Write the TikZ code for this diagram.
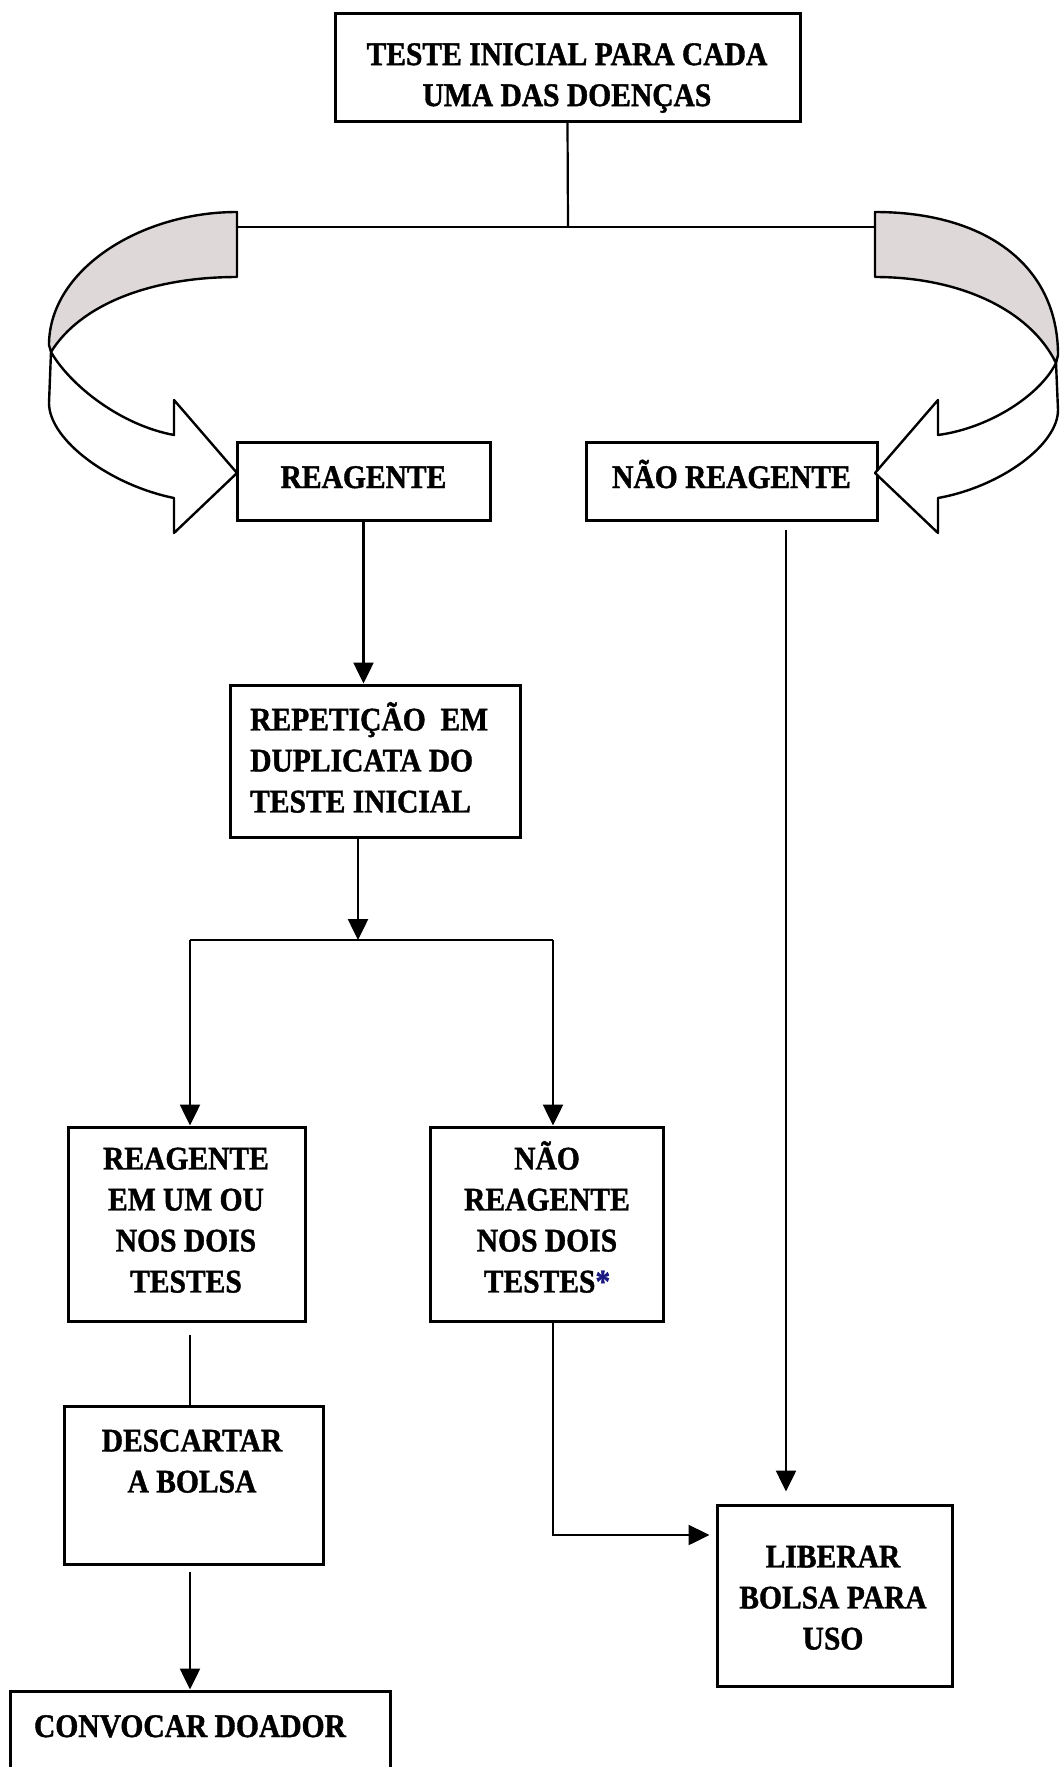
\documentclass[tikz,border=0pt]{standalone}
\usepackage{fontspec}
\setmainfont{Liberation Serif}[FakeStretch=0.895,FakeBold=1.2]
\usetikzlibrary{arrows.meta,calc}
\definecolor{ribbon}{RGB}{222,217,216}
\definecolor{astblue}{RGB}{25,25,130}
\begin{document}
\begin{tikzpicture}[x=1pt,y=-1pt,
  box/.style={draw, line width=3pt, inner sep=0pt, rectangle},
  txt/.style={inner sep=0pt, align=center, font=\fontsize{33}{41}\selectfont\bfseries},
  conn/.style={line width=2.2pt},
  arr/.style={line width=2.5pt, -{Triangle[length=21pt,width=20pt]}},
  rib/.style={line width=2.4pt, line join=round}]
\useasboundingbox (0,0) rectangle (1061,1767);
\clip (0,0) rectangle (1061,1767);
\fill[white] (0,0) rectangle (1061,1767);

% boxes
\node[box, minimum width=465pt, minimum height=108pt] (top) at (567.5,67) {};
\node[box, minimum width=253pt, minimum height=78pt] (rea) at (363.5,481) {};
\node[box, minimum width=291pt, minimum height=78pt] (nr) at (731.5,481) {};
\node[box, minimum width=290pt, minimum height=152pt] (rep) at (375,761) {};
\node[box, minimum width=237pt, minimum height=194pt] (rl) at (186.5,1224) {};
\node[box, minimum width=233pt, minimum height=194pt] (nl) at (546.5,1224) {};
\node[box, minimum width=259pt, minimum height=158pt] (desc) at (193.5,1485) {};
\node[box, minimum width=235pt, minimum height=181pt] (lib) at (834.5,1595.5) {};
\node[box, minimum width=380pt, minimum height=130pt] (conv) at (200,1756) {};

% texts
\node[txt, anchor=north] (topT) at (567,43) {TESTE INICIAL PARA CADA\\UMA DAS DOENÇAS};
\node[txt, anchor=base] (reaT) at (363.5,488) {REAGENTE};
\node[txt, anchor=base] (nrT) at (731.5,488) {NÃO REAGENTE};
\node[txt, anchor=south west, align=left] (repT) at (250,813) {REPETIÇÃO\ \ EM\\DUPLICATA DO\\TESTE INICIAL};
\node[txt, anchor=south] (rlT) at (186,1293) {REAGENTE\\EM UM OU\\NOS DOIS\\TESTES};
\node[txt, anchor=south] (nlT) at (547,1293) {NÃO\\REAGENTE\\NOS DOIS\\TESTES\textcolor{astblue}{*}};
\node[txt, anchor=south] (descT) at (192,1493) {DESCARTAR\\A BOLSA};
\node[txt, anchor=base] (convT) at (190,1737) {CONVOCAR DOADOR};
\node[txt, anchor=south] (libT) at (833,1650) {LIBERAR\\BOLSA PARA\\USO};

% coordinates
\coordinate (jn) at (568,227);
\coordinate (tl) at (237,227);
\coordinate (tr) at (875,227);
\coordinate (sj) at (358,940);
\coordinate (sl) at (190,940);
\coordinate (sr) at (553,940);
\coordinate (hk) at (553,1535);
\coordinate (vx) at (786,520);

% ribbons (curved arrows)
\draw[rib, fill=white] (51,352) .. controls (70,385) and (120,425) .. (174,435) -- (174,400) -- (237,473) -- (174,533) -- (174,498) .. controls (110,485) and (49,440) .. (49,403) -- cycle;
\draw[rib, fill=ribbon] (237,212) .. controls (140,212) and (49,270) .. (49,345) -- (51,352) .. controls (80,305) and (150,277) .. (237,277) -- cycle;
\draw[rib, fill=white] (1056,363) .. controls (1040,395) and (990,428) .. (938,435) -- (938,400) -- (875,473) -- (938,533) -- (938,498) .. controls (1000,487) and (1058,445) .. (1058,410) -- cycle;
\draw[rib, fill=ribbon] (875,212) .. controls (985,212) and (1058,265) .. (1058,355) -- (1056,363) .. controls (1030,310) and (960,277) .. (875,277) -- cycle;

% connectors
\draw[conn] (top.south) -- (jn);
\draw[conn] (tl) -- (tr);
\draw[arr] (rea.south) -- (rea.south |- rep.north);
\draw[arr] (rep.south -| sj) -- (sj);
\draw[conn] (sl) -- (sr);
\draw[arr] (sl) -- (sl |- rl.north);
\draw[arr] (sr) -- (sr |- nl.north);
\draw[conn, shorten <=12pt] (sl |- rl.south) -- (sl |- desc.north);
\draw[arr, shorten <=6pt] (sl |- desc.south) -- (sl |- conv.north);
\draw[arr, shorten >=6pt] (sr |- nl.south) -- (hk) -- (hk -| lib.west);
\draw[arr, shorten <=8pt, shorten >=12pt] (vx |- nr.south) -- (vx |- lib.north);
\end{tikzpicture}
\end{document}
